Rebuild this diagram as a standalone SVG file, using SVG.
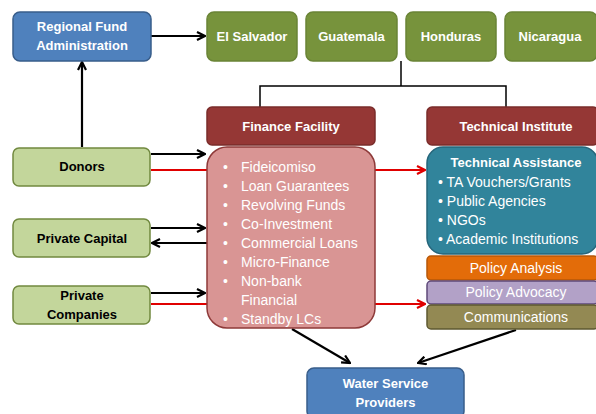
<svg xmlns="http://www.w3.org/2000/svg" width="596" height="414" viewBox="0 0 596 414">
  <defs>
    <marker id="ah" viewBox="0 0 10 10" refX="9" refY="5" markerWidth="10" markerHeight="10" markerUnits="userSpaceOnUse" orient="auto">
      <path d="M1,1 L9,5 L1,9" fill="none" stroke="#000" stroke-width="2.2"/>
    </marker>
    <marker id="ahr" viewBox="0 0 10 10" refX="9" refY="5" markerWidth="10" markerHeight="10" markerUnits="userSpaceOnUse" orient="auto">
      <path d="M1,1 L9,5 L1,9" fill="none" stroke="#e00000" stroke-width="2.2"/>
    </marker>
    <style>
      text { font-family: "Liberation Sans", Arial, sans-serif; }
      .hd { font-size: 13px; font-weight: bold; fill: #fff; text-anchor: middle; }
      .hdk { font-size: 13px; font-weight: bold; fill: #000; text-anchor: middle; }
      .li { font-size: 14px; fill: #fff; }
      .blue { fill: #4f81bd; stroke: #385d8a; stroke-width: 1.5; }
      .green { fill: #77933c; stroke: #6a8436; stroke-width: 1.5; }
      .lgreen { fill: #c3d69b; stroke: #71893f; stroke-width: 1.5; }
      .dred { fill: #953735; stroke: #7a2c2a; stroke-width: 1.5; }
      .pink { fill: #d99594; stroke: #8e3a39; stroke-width: 1.5; }
      .teal { fill: #31849b; stroke: #25657a; stroke-width: 1.5; }
      .k { stroke: #000; stroke-width: 2.2; fill: none; }
      .r { stroke: #e00000; stroke-width: 2.2; fill: none; }
      .t { stroke: #000; stroke-width: 1.5; fill: none; }
    </style>
  </defs>

  <!-- connectors -->
  <g id="connectors">
    <line class="k" x1="151" y1="36" x2="205" y2="36" marker-end="url(#ah)"/>
    <line class="k" x1="82" y1="147" x2="82" y2="62" marker-end="url(#ah)"/>
    <polyline class="t" points="401,61 401,86"/>
    <polyline class="t" points="260,107 260,86 506,86 506,107"/>
    <line class="k" x1="151" y1="154" x2="205" y2="154" marker-end="url(#ah)"/>
    <line class="r" x1="151" y1="170" x2="208" y2="170"/>
    <line class="k" x1="151" y1="228" x2="205" y2="228" marker-end="url(#ah)"/>
    <line class="k" x1="207" y1="243" x2="152" y2="243" marker-end="url(#ah)"/>
    <line class="k" x1="151" y1="293" x2="205" y2="293" marker-end="url(#ah)"/>
    <line class="r" x1="151" y1="304" x2="208" y2="304"/>
    <line class="r" x1="375" y1="170" x2="425" y2="170" marker-end="url(#ahr)"/>
    <line class="r" x1="375" y1="304" x2="425" y2="304" marker-end="url(#ahr)"/>
    <line class="k" x1="292" y1="329" x2="350" y2="363" marker-end="url(#ah)"/>
    <line class="k" x1="516" y1="330" x2="418" y2="363" marker-end="url(#ah)"/>
  </g>

  <g id="regional-fund">
    <rect class="blue" x="13" y="12" width="138" height="49" rx="7"/>
    <text class="hd" x="82" y="31">Regional Fund</text>
    <text class="hd" x="82" y="50">Administration</text>
  </g>

  <g id="el-salvador">
    <rect class="green" x="207" y="12" width="90" height="49" rx="7"/>
    <text class="hd" x="252" y="41">El Salvador</text>
  </g>
  <g id="guatemala">
    <rect class="green" x="306" y="12" width="91" height="49" rx="7"/>
    <text class="hd" x="351.5" y="41">Guatemala</text>
  </g>
  <g id="honduras">
    <rect class="green" x="406" y="12" width="90" height="49" rx="7"/>
    <text class="hd" x="451" y="41">Honduras</text>
  </g>
  <g id="nicaragua">
    <rect class="green" x="505" y="12" width="92" height="49" rx="7"/>
    <text class="hd" x="550" y="41">Nicaragua</text>
  </g>

  <g id="finance-facility">
    <rect class="dred" x="207" y="107" width="168" height="38" rx="5"/>
    <text class="hd" x="291" y="131">Finance Facility</text>
  </g>
  <g id="technical-institute">
    <rect class="dred" x="427" y="107" width="171" height="38" rx="5"/>
    <text class="hd" x="516" y="131">Technical Institute</text>
  </g>

  <g id="donors">
    <rect class="lgreen" x="13" y="148" width="137" height="38" rx="6"/>
    <text class="hdk" x="82" y="171">Donors</text>
  </g>
  <g id="private-capital">
    <rect class="lgreen" x="13" y="219" width="137" height="38" rx="6"/>
    <text class="hdk" x="82" y="243">Private Capital</text>
  </g>
  <g id="private-companies">
    <rect class="lgreen" x="13" y="286" width="137" height="38" rx="6"/>
    <text class="hdk" x="82" y="300">Private</text>
    <text class="hdk" x="82" y="319">Companies</text>
  </g>

  <g id="finance-instruments">
    <rect class="pink" x="207" y="147" width="168" height="181" rx="20"/>
    <g class="li">
      <text x="223" y="172">•</text><text x="241" y="172">Fideicomiso</text>
      <text x="223" y="191">•</text><text x="241" y="191">Loan Guarantees</text>
      <text x="223" y="210">•</text><text x="241" y="210">Revolving Funds</text>
      <text x="223" y="229">•</text><text x="241" y="229">Co-Investment</text>
      <text x="223" y="248">•</text><text x="241" y="248">Commercial Loans</text>
      <text x="223" y="267">•</text><text x="241" y="267">Micro-Finance</text>
      <text x="223" y="286">•</text><text x="241" y="286">Non-bank</text>
      <text x="241" y="305">Financial</text>
      <text x="223" y="324">•</text><text x="241" y="324">Standby LCs</text>
    </g>
  </g>

  <g id="technical-assistance">
    <rect class="teal" x="427" y="147" width="171" height="107" rx="16"/>
    <text class="hd" x="516" y="167">Technical Assistance</text>
    <g class="li">
      <text x="438" y="187">• TA Vouchers/Grants</text>
      <text x="438" y="206">• Public Agencies</text>
      <text x="438" y="225">• NGOs</text>
      <text x="438" y="244">• Academic Institutions</text>
    </g>
  </g>

  <g id="policy-analysis">
    <rect x="427" y="256" width="171" height="24" rx="4" fill="#e36c09" stroke="#b65708" stroke-width="1.5"/>
    <text class="li" x="516" y="273" text-anchor="middle">Policy Analysis</text>
  </g>
  <g id="policy-advocacy">
    <rect x="427" y="281" width="171" height="23" rx="4" fill="#b2a1c7" stroke="#5f497a" stroke-width="1.5"/>
    <text class="li" x="516" y="297" text-anchor="middle">Policy Advocacy</text>
  </g>
  <g id="communications">
    <rect x="427" y="305" width="171" height="24" rx="4" fill="#938953" stroke="#5e5831" stroke-width="1.5"/>
    <text class="li" x="516" y="322" text-anchor="middle">Communications</text>
  </g>

  <g id="water-service-providers">
    <rect class="blue" x="307" y="368" width="157" height="50" rx="7"/>
    <text class="hd" x="385.5" y="388">Water Service</text>
    <text class="hd" x="385.5" y="407">Providers</text>
  </g>
</svg>
